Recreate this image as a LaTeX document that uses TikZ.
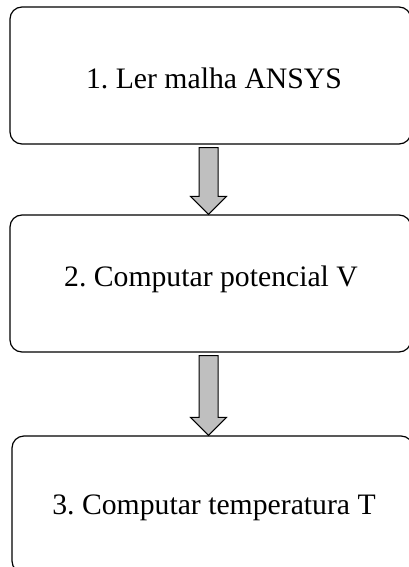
\documentclass[tikz,border=0pt]{standalone}
\usepackage{fontspec}
\setmainfont{Liberation Serif}
\usetikzlibrary{calc, positioning}
\colorlet{arrowgray}{black!25}
\frenchspacing

\tikzset{
  stepbox/.style={draw=black, line width=1.2pt, rounded corners=12pt,
    minimum width=401pt, minimum height=137pt, inner sep=0pt},
  steplabel/.style={anchor=base, inner sep=0pt, font=\fontsize{29.7}{34}\selectfont},
  flowarrow/.style={fill=arrowgray, draw=black, line width=1pt, line join=miter}
}

% fat arrow from the bottom of one box to the top of the next
\newcommand{\fatarrow}[2]{%
  \draw[flowarrow] let \p1=(#1.south), \p2=(#2.north) in
    (\x1-11.5pt, \y1-3pt) -- (\x1-11.5pt, \y2+18pt) -- (\x1-20pt, \y2+18pt)
    -- (\x1-2pt, \y2) -- (\x1+16pt, \y2+18pt) -- (\x1+7.5pt, \y2+18pt)
    -- (\x1+7.5pt, \y1-3pt) -- cycle;
}

\begin{document}
\begin{tikzpicture}[x=1pt, y=-1pt]

    \useasboundingbox (0,0) rectangle (409,567);

    % Boxes
    \node[stepbox] (box1) at (210.5, 75.5) {};
    \node[stepbox] (box2) at (210.5, 283.5) {};
    \node[stepbox] (box3) at (212.5, 504.5) {};

    % Labels
    \node[steplabel] (lab1) at (214, 89) {1. Ler malha ANSYS};
    \node[steplabel] (lab2) at (211, 286) {2. Computar potencial V};
    \node[steplabel] (lab3) at (214, 514) {3. Computar temperatura T};

    % Arrows
    \fatarrow{box1}{box2}
    \fatarrow{box2}{box3}

\end{tikzpicture}
\end{document}
